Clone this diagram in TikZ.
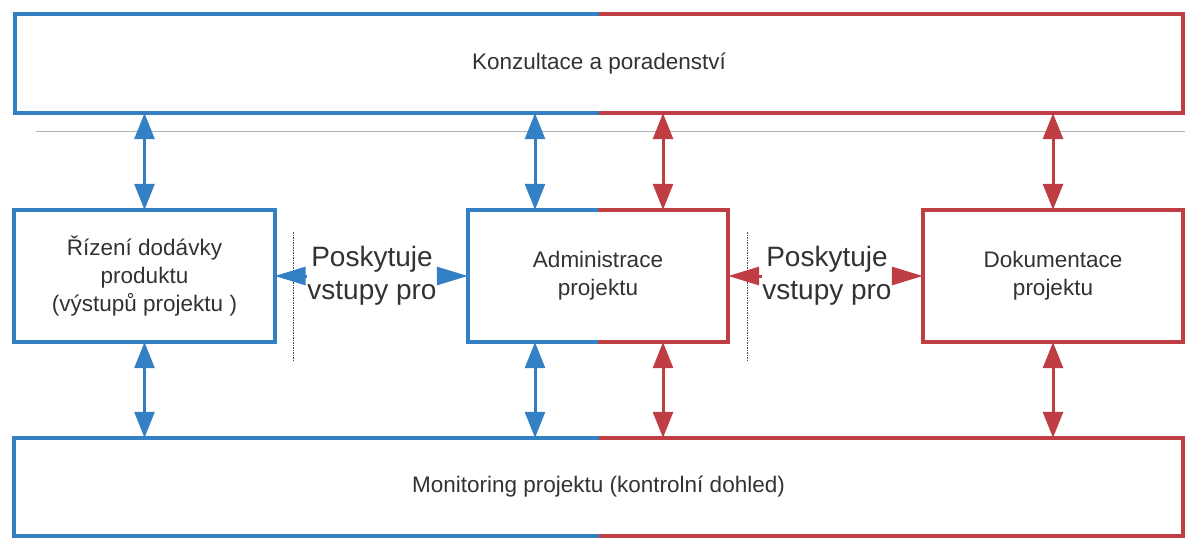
\documentclass[tikz,border=0pt]{standalone}
\usepackage{fontspec}
\setmainfont{Liberation Sans}
\usepackage{xcolor}
\usetikzlibrary{arrows.meta,positioning}
\definecolor{planblue}{RGB}{52,128,196}
\definecolor{planred}{RGB}{190,62,68}
\definecolor{inktext}{RGB}{50,50,50}

\begin{document}
\begin{tikzpicture}[x=1pt,y=-1pt,
    box/.style={minimum width=260pt, minimum height=132pt, inner sep=0pt,
        align=center, text=inktext, font=\fontsize{22.5}{28}\selectfont},
    band/.style={box, minimum width=1168pt, minimum height=99pt},
    boxline/.style={line width=4pt},
    link/.style={line width=3pt,
        {Triangle[length=26pt,width=20pt]}-{Triangle[length=26pt,width=20pt]}},
    feed/.style={line width=3pt, -{Triangle[length=31pt,width=18pt]}},
    lead/.style={inner sep=0pt, align=center, text=inktext,
        font=\fontsize{28}{33}\selectfont},
    sepline/.style={black!70, line width=1pt, dash pattern=on 1.5pt off 1pt}]
    \useasboundingbox (0,0) rectangle (1185,548);

    % Boxes
    \node[band] (konz) at (599,63.5) {Konzultace a poradenství};
    \node[box] (rizeni) at (144.5,276) {Řízení dodávky\\produktu\\(výstupů projektu )};
    \node[box] (admin) at (598,276) {Administrace\\projektu};
    \node[box] (dokum) at (1053,276) {Dokumentace\\projektu};
    \node[band, minimum width=1169pt, minimum height=98pt] (monit) at (598.5,487)
        {Monitoring projektu (kontrolní dohled)};

    % Borders, split blue / red
    \draw[boxline, planblue] (konz.north) -- (konz.north west) -- (konz.south west) -- (konz.south);
    \draw[boxline, planred] (konz.north) -- (konz.north east) -- (konz.south east) -- (konz.south);
    \draw[boxline, planblue] (admin.north) -- (admin.north west) -- (admin.south west) -- (admin.south);
    \draw[boxline, planred] (admin.north) -- (admin.north east) -- (admin.south east) -- (admin.south);
    \draw[boxline, planblue] (monit.north) -- (monit.north west) -- (monit.south west) -- (monit.south);
    \draw[boxline, planred] (monit.north) -- (monit.north east) -- (monit.south east) -- (monit.south);
    \draw[boxline, planblue] (rizeni.north west) rectangle (rizeni.south east);
    \draw[boxline, planred] (dokum.north west) rectangle (dokum.south east);

    % Thin rule and separators
    \draw[gray!60, line width=1pt] (36,132) -- (1185,132);
    \draw[sepline] (293,232) -- (293,362);
    \draw[sepline] (747,232) -- (747,362);

    % Vertical links
    \coordinate (a1) at ([xshift=-63pt]admin.north);
    \coordinate (a2) at ([xshift=65pt]admin.north);
    \coordinate (b1) at ([xshift=-63pt]admin.south);
    \coordinate (b2) at ([xshift=65pt]admin.south);
    \draw[link, planblue] (konz.south -| rizeni.north) -- (rizeni.north);
    \draw[link, planblue] (a1 |- konz.south) -- (a1);
    \draw[link, planred] (a2 |- konz.south) -- (a2);
    \draw[link, planred] (konz.south -| dokum.north) -- (dokum.north);
    \draw[link, planblue] (rizeni.south) -- (rizeni.south |- monit.north);
    \draw[link, planblue] (b1) -- (b1 |- monit.north);
    \draw[link, planred] (b2) -- (b2 |- monit.north);
    \draw[link, planred] (dokum.south) -- (dokum.south |- monit.north);

    % Inputs
    \node[lead] (give1) at (372,276) {Poskytuje\\vstupy pro};
    \node[lead] (give2) at (827,276) {Poskytuje\\vstupy pro};
    \draw[feed, planblue] (give1.west) -- (give1.west -| rizeni.east);
    \draw[feed, planblue] (give1.east) -- (give1.east -| admin.west);
    \draw[feed, planred] (give2.west) -- (give2.west -| admin.east);
    \draw[feed, planred] (give2.east) -- (give2.east -| dokum.west);
\end{tikzpicture}
\end{document}
